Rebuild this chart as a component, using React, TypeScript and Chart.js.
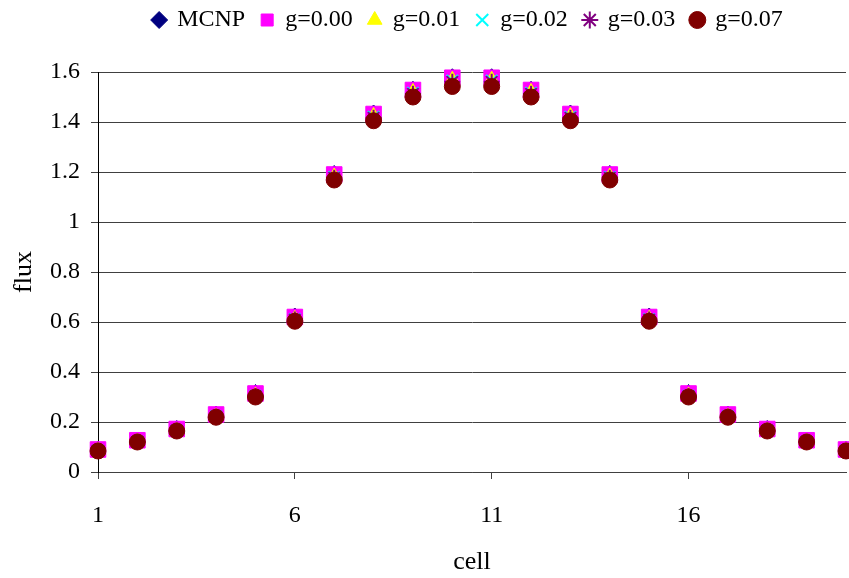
import React, { useEffect, useRef } from "react";
import { Chart, registerables } from "chart.js";

Chart.register(...registerables);

const cells = [1, 2, 3, 4, 5, 6, 7, 8, 9, 10, 11, 12, 13, 14, 15, 16, 17, 18, 19, 20];
const xTickValues = [1, 6, 11, 16];
const seriesNames = ["MCNP", "g=0.00", "g=0.01", "g=0.02", "g=0.03", "g=0.07"];

const mcnp = [0.095, 0.132, 0.178, 0.236, 0.322, 0.628, 1.198, 1.44, 1.535, 1.585, 1.585, 1.535, 1.44, 1.198, 0.628, 0.322, 0.236, 0.178, 0.132, 0.095];
const g000 = [0.09, 0.127, 0.172, 0.23, 0.314, 0.62, 1.19, 1.432, 1.528, 1.577, 1.577, 1.528, 1.432, 1.19, 0.62, 0.314, 0.23, 0.172, 0.127, 0.09];
const g001 = [0.086, 0.122, 0.167, 0.224, 0.307, 0.614, 1.184, 1.426, 1.522, 1.571, 1.571, 1.522, 1.426, 1.184, 0.614, 0.307, 0.224, 0.167, 0.122, 0.086];
const g002 = [0.086, 0.122, 0.166, 0.223, 0.305, 0.612, 1.18, 1.421, 1.517, 1.566, 1.566, 1.517, 1.421, 1.18, 0.612, 0.305, 0.223, 0.166, 0.122, 0.086];
const g003 = [0.085, 0.121, 0.166, 0.222, 0.304, 0.61, 1.177, 1.417, 1.513, 1.561, 1.561, 1.513, 1.417, 1.177, 0.61, 0.304, 0.222, 0.166, 0.121, 0.085];
const g007 = [0.084, 0.12, 0.164, 0.219, 0.3, 0.603, 1.168, 1.405, 1.5, 1.542, 1.542, 1.5, 1.405, 1.168, 0.603, 0.3, 0.219, 0.164, 0.12, 0.084];

const FONT = "'Liberation Serif', 'Times New Roman', serif";
const PLOT_RIGHT = 846;

const legendMover = {
  id: "legendMover",
  beforeDraw(chart: any) {
    const lg = chart.legend;
    if (lg) {
      const h = lg.height;
      const w = lg.width;
      lg.top = -8;
      lg.bottom = lg.top + h;
      lg.left = 44;
      lg.right = lg.left + w;
    }
  },
};

const areaFixer = {
  id: "areaFixer",
  afterLayout(chart: any) {
    const a = chart.chartArea;
    a.right = PLOT_RIGHT;
    a.width = a.right - a.left;
    const x = chart.scales.x;
    if (x) {
      x.right = PLOT_RIGHT;
      x.width = x.right - x.left;
      x.configure();
    }
  },
};

export default function App() {
  const ref = useRef<HTMLCanvasElement>(null);

  useEffect(() => {
    document.body.style.margin = "0";
    const canvas = ref.current;
    if (!canvas) return;
    const toPts = (arr: number[]) => cells.map((c, i) => ({ x: c, y: arr[i] }));
    const styles = [
      { data: mcnp, pointStyle: "rectRot", color: "#000080", radius: 7, bw: 1 },
      { data: g000, pointStyle: "rect", color: "#FF00FF", radius: 11, bw: 1 },
      { data: g001, pointStyle: "triangle", color: "#FFFF00", radius: 8, bw: 1 },
      { data: g002, pointStyle: "crossRot", color: "#00FFFF", radius: 8, bw: 2 },
      { data: g003, pointStyle: "star", color: "#800080", radius: 8, bw: 2 },
      { data: g007, pointStyle: "circle", color: "#800000", radius: 8, bw: 1 },
    ];
    const datasets = styles.map((s, i) => ({
      label: seriesNames[i],
      data: toPts(s.data),
      showLine: false,
      pointStyle: s.pointStyle,
      pointRadius: s.radius,
      pointHoverRadius: s.radius,
      pointBackgroundColor: s.color,
      pointBorderColor: s.color,
      backgroundColor: s.color,
      borderColor: s.color,
      pointBorderWidth: s.bw,
      borderWidth: s.bw,
      clip: false,
      order: styles.length - i,
    }));

    const chart = new Chart(canvas, {
      type: "scatter",
      data: { datasets: datasets as any },
      plugins: [areaFixer, legendMover],
      options: {
        animation: false,
        responsive: false,
        events: [],
        layout: { padding: { top: 22, right: 1, bottom: 0, left: 0 } },
        plugins: {
          tooltip: { enabled: false },
          legend: {
            display: true,
            position: "top",
            labels: {
              usePointStyle: true,
              boxWidth: 12,
              boxHeight: 12,
              padding: 16,
              color: "#000",
              font: { family: FONT, size: 24 },
              sort: (a: any, b: any) => a.datasetIndex - b.datasetIndex,
            },
          },
        },
        scales: {
          x: {
            type: "linear",
            min: 1,
            max: 20,
            afterBuildTicks: (scale: any) => {
              scale.ticks = xTickValues.map((v) => ({ value: v }));
            },
            afterFit: (scale: any) => {
              scale.height = 106;
            },
            grid: {
              drawOnChartArea: false,
              drawTicks: true,
              tickLength: 7,
              color: "#404040",
            },
            border: { display: true, color: "#404040", width: 1 },
            ticks: {
              color: "#000",
              font: { family: FONT, size: 24 },
              padding: 22,
              maxRotation: 0,
              autoSkip: false,
              callback: (v: any) => String(v),
            },
            title: {
              display: true,
              text: "cell",
              color: "#000",
              font: { family: FONT, size: 26 },
              padding: { top: 0, bottom: 0 },
            },
          },
          y: {
            type: "linear",
            min: 0,
            max: 1.6,
            afterFit: (scale: any) => {
              scale.width = 98;
            },
            grid: {
              drawOnChartArea: true,
              drawTicks: true,
              tickLength: 7,
              color: "#404040",
            },
            border: { display: true, color: "#000", width: 1 },
            ticks: {
              stepSize: 0.2,
              color: "#000",
              font: { family: FONT, size: 24 },
              padding: 11,
              callback: (v: any) => String(+Number(v).toFixed(1)),
            },
            title: {
              display: true,
              text: "flux",
              color: "#000",
              font: { family: FONT, size: 26 },
              padding: { top: 9, bottom: 0 },
            },
          },
        },
      },
    });
    return () => chart.destroy();
  }, []);

  return (
    <div style={{ position: "absolute", left: 0, top: 0, width: 849, height: 578 }}>
      <canvas ref={ref} width={849} height={578} style={{ width: 849, height: 578, display: "block" }} />
    </div>
  );
}
